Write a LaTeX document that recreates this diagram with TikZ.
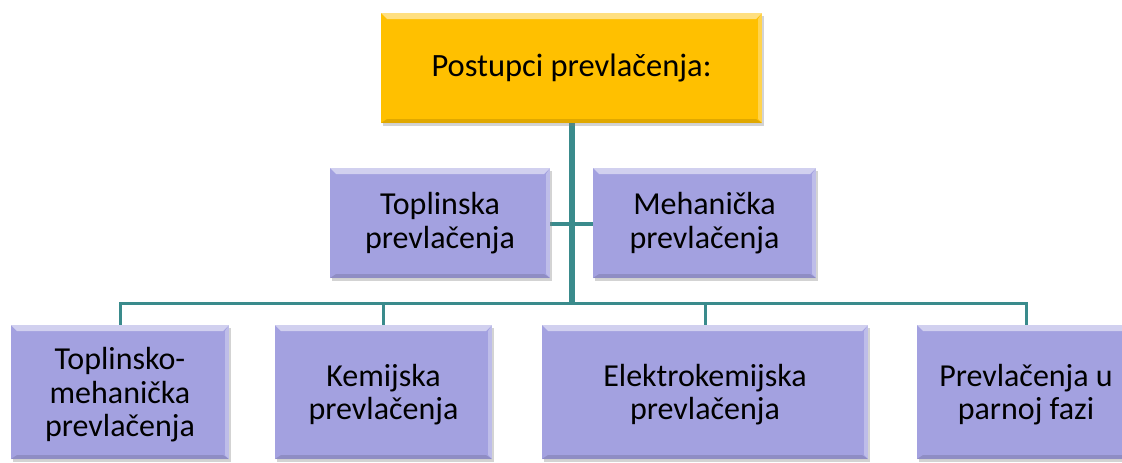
\documentclass[tikz,border=0pt]{standalone}
\usepackage{fontspec}
\setmainfont{Carlito}
\usetikzlibrary{shadows}
\definecolor{gold}{HTML}{FFC000}
\definecolor{lavender}{HTML}{A3A1E0}
\definecolor{teal}{HTML}{3A8B8C}
\begin{document}
\begin{tikzpicture}[x=1pt, y=-1pt,
    box/.style = {rectangle, inner sep=0pt, outer sep=0pt, align=center,
        drop shadow={shadow xshift=1.5pt, shadow yshift=-2.5pt, opacity=.35},
        path picture={
            \fill[white, opacity=.5] (path picture bounding box.north west) -- (path picture bounding box.north east)
                -- ([xshift=-6pt, yshift=-6pt]path picture bounding box.north east) -- ([xshift=6pt, yshift=-6pt]path picture bounding box.north west) -- cycle;
            \fill[black, opacity=.12] (path picture bounding box.south west) -- (path picture bounding box.south east)
                -- ([xshift=-6pt, yshift=4pt]path picture bounding box.south east) -- ([xshift=6pt, yshift=4pt]path picture bounding box.south west) -- cycle;
            \fill[white, opacity=.3] (path picture bounding box.north east) -- (path picture bounding box.south east)
                -- ([xshift=-4pt, yshift=4pt]path picture bounding box.south east) -- ([xshift=-4pt, yshift=-6pt]path picture bounding box.north east) -- cycle;
        }},
    head/.style = {box, fill=gold, minimum width=381pt, minimum height=110pt, font=\fontsize{32.5}{34}\selectfont},
    item/.style = {box, fill=lavender, minimum height=134pt, text depth=-10pt, font=\fontsize{32}{33.5}\selectfont},
    mid/.style = {box, fill=lavender, minimum height=110pt, font=\fontsize{32}{33.5}\selectfont},
    link/.style = {draw=teal, line width=3pt}]
    \useasboundingbox (0,0) rectangle (1122,463);

    % connectors
    \coordinate (hub) at (571.5,303);
    \draw[link, line width=6pt] (571.5,123) -- (hub);
    \draw[link, line width=4pt] (550,224) -- (593,224);
    \draw[link, line cap=rect] (120,325) |- (hub) -| (1026,325);
    \draw[link] (383.5,325) -- (383.5,303);
    \draw[link] (705,325) -- (705,303);

    % boxes
    \node[head] (top) at (571.5,68) {Postupci prevlačenja:};
    \node[mid, minimum width=220pt] (tp) at (440,223) {Toplinska\\prevlačenja};
    \node[mid, minimum width=223pt] (mp) at (704.5,223) {Mehanička\\prevlačenja};
    \node[item, minimum width=218pt] (tm) at (120,392) {Toplinsko-\\mehanička\\prevlačenja};
    \node[item, minimum width=217pt] (kp) at (383.5,392) {Kemijska\\prevlačenja};
    \node[item, minimum width=326pt] (ep) at (705,392) {Elektrokemijska\\prevlačenja};
    \node[item, minimum width=218pt] (pf) at (1026,392) {Prevlačenja u\\parnoj fazi};
\end{tikzpicture}
\end{document}
